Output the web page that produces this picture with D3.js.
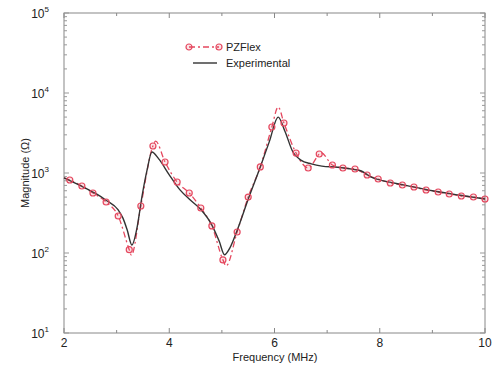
<!DOCTYPE html>
<html>
<head>
<meta charset="utf-8">
<script src="https://cdn.jsdelivr.net/npm/d3@7"></script>
<style>
body { margin: 0; background: #fff; }
svg { font-family: "Liberation Sans", Arial, sans-serif; }
</style>
</head>
<body>
<div id="chart"></div>
<script>
// Experimental (solid black)
var expFreq = [2.0, 2.3, 2.6, 2.8, 3.03, 3.12, 3.2, 3.29, 3.39, 3.48, 3.58, 3.67, 3.8, 4.0, 4.2, 4.4, 4.6, 4.8, 4.95, 5.05, 5.15, 5.3, 5.5, 5.73, 5.9, 6.07, 6.2, 6.35, 6.5, 6.7, 6.9, 7.2, 7.5, 7.65, 7.85, 8.0, 8.5, 9.0, 9.5, 10.0];
var expMag  = [870, 700, 555, 457, 345, 273, 195, 126, 211, 500, 1100, 1830, 1500, 950, 620, 460, 350, 230, 140, 95, 115, 200, 470, 1190, 2450, 5000, 3300, 1830, 1450, 1300, 1220, 1180, 1110, 1060, 880, 820, 700, 600, 530, 473];

// PZFlex markers (circles)
var pzFreq = [2.11, 2.34, 2.55, 2.80, 3.03, 3.24, 3.46, 3.69, 3.92, 4.15, 4.38, 4.60, 4.81, 5.02, 5.29, 5.50, 5.73, 5.95, 6.18, 6.41, 6.64, 6.85, 7.10, 7.30, 7.53, 7.76, 7.97, 8.20, 8.43, 8.65, 8.88, 9.11, 9.32, 9.55, 9.78, 10.0];
var pzMag  = [818, 688, 562, 434, 290, 110, 387, 2175, 1372, 772, 562, 365, 218, 82, 183, 500, 1190, 3760, 4220, 1778, 1155, 1728, 1259, 1155, 1122, 944, 841, 750, 708, 668, 613, 579, 546, 516, 501, 473];

// PZFlex line points between markers (peaks and dips)
var pzExtraFreq = [2.0, 3.28, 3.74, 5.08, 6.07, 6.88];
var pzExtraMag  = [870, 94, 2500, 69, 6680, 1800];

var xTicks = [2, 4, 6, 8, 10];
var xMinor = [3, 5, 7, 9];
var yTicks = [10, 100, 1000, 10000, 100000];
var yExp = ['1', '2', '3', '4', '5'];

var red = '#e5485f';
var W = 499, H = 368;
var svg = d3.select('#chart').append('svg').attr('width', W).attr('height', H);

var x = d3.scaleLinear().domain([2, 10]).range([64, 485]);
var y = d3.scaleLog().domain([10, 100000]).range([333, 13]);

// frame
svg.append('rect')
	.attr('x', x(2)).attr('y', y(100000))
	.attr('width', x(10) - x(2)).attr('height', y(10) - y(100000))
	.attr('fill', 'none').attr('stroke', '#888').attr('stroke-width', 1);

// x ticks, top and bottom, inward
var xt = xTicks.map(function(d) { return { v: d, len: 5 }; })
	.concat(xMinor.map(function(d) { return { v: d, len: 3 }; }));
xt.forEach(function(t) {
	svg.append('line').attr('x1', x(t.v)).attr('x2', x(t.v))
		.attr('y1', y(10)).attr('y2', y(10) - t.len).attr('stroke', '#888');
	svg.append('line').attr('x1', x(t.v)).attr('x2', x(t.v))
		.attr('y1', y(100000)).attr('y2', y(100000) + t.len).attr('stroke', '#888');
});

// y ticks, log minor ticks
var yt = [];
for (var e = 1; e < 5; e++) {
	for (var m = 1; m < 10; m++) yt.push({ v: m * Math.pow(10, e), len: m === 1 ? 5 : 3 });
}
yt.push({ v: 100000, len: 5 });
yt.forEach(function(t) {
	svg.append('line').attr('x1', x(2)).attr('x2', x(2) + t.len)
		.attr('y1', y(t.v)).attr('y2', y(t.v)).attr('stroke', '#999');
	svg.append('line').attr('x1', x(10)).attr('x2', x(10) - t.len)
		.attr('y1', y(t.v)).attr('y2', y(t.v)).attr('stroke', '#999');
});

// tick labels
svg.selectAll('.xl').data(xTicks).enter().append('text')
	.attr('x', function(d) { return x(d); })
	.attr('y', 347)
	.attr('text-anchor', 'middle')
	.attr('font-size', 12)
	.attr('fill', '#222')
	.text(function(d) { return d; });

yTicks.forEach(function(d, i) {
	var t = svg.append('text')
		.attr('x', 49).attr('y', y(d) + 5)
		.attr('text-anchor', 'end')
		.attr('font-size', 12)
		.attr('fill', '#222');
	t.append('tspan').text('10');
	t.append('tspan').attr('font-size', 8).attr('dy', -6).text(yExp[i]);
});

// axis titles
svg.append('text')
	.attr('x', 275).attr('y', 361)
	.attr('text-anchor', 'middle')
	.attr('font-size', 11)
	.attr('fill', '#222')
	.text('Frequency (MHz)');

svg.append('text')
	.attr('transform', 'translate(29,' + y(1000) + ') rotate(-90)')
	.attr('text-anchor', 'middle')
	.attr('font-size', 11)
	.attr('fill', '#222')
	.text('Magnitude (\u03A9)');

// PZFlex line
var pzLine = pzFreq.map(function(f, i) { return [f, pzMag[i]]; })
	.concat(pzExtraFreq.map(function(f, i) { return [f, pzExtraMag[i]]; }))
	.sort(function(a, b) { return a[0] - b[0]; });

var line = d3.line()
	.x(function(d) { return x(d[0]); })
	.y(function(d) { return y(d[1]); })
	.curve(d3.curveMonotoneX);

svg.append('path')
	.attr('d', line(pzLine))
	.attr('fill', 'none')
	.attr('stroke', red)
	.attr('stroke-width', 1.3)
	.attr('stroke-dasharray', '6,3,2,3');

// experimental
svg.append('path')
	.attr('d', line(expFreq.map(function(f, i) { return [f, expMag[i]]; })))
	.attr('fill', 'none')
	.attr('stroke', '#333')
	.attr('stroke-width', 1.4);

// markers
svg.selectAll('.pt').data(pzFreq).enter().append('circle')
	.attr('cx', function(d) { return x(d); })
	.attr('cy', function(d, i) { return y(pzMag[i]); })
	.attr('r', 3)
	.attr('fill', 'rgba(229,72,95,0.15)')
	.attr('stroke', red)
	.attr('stroke-width', 1.2);

// legend
var lg = svg.append('g').attr('transform', 'translate(189,47)');
lg.append('line').attr('x1', 0).attr('x2', 30).attr('y1', 0).attr('y2', 0)
	.attr('stroke', red).attr('stroke-width', 1.3).attr('stroke-dasharray', '6,3,2,3');
lg.append('circle').attr('cx', 0).attr('cy', 0).attr('r', 3)
	.attr('fill', 'rgba(229,72,95,0.15)').attr('stroke', red).attr('stroke-width', 1.2);
lg.append('circle').attr('cx', 30).attr('cy', 0).attr('r', 3)
	.attr('fill', 'rgba(229,72,95,0.15)').attr('stroke', red).attr('stroke-width', 1.2);
lg.append('text').attr('x', 37).attr('y', 4).attr('font-size', 11).attr('fill', '#222').text('PZFlex');
lg.append('line').attr('x1', 4).attr('x2', 28).attr('y1', 16).attr('y2', 16)
	.attr('stroke', '#333').attr('stroke-width', 1.4);
lg.append('text').attr('x', 37).attr('y', 20).attr('font-size', 11).attr('fill', '#222').text('Experimental');
</script>
</body>
</html>
